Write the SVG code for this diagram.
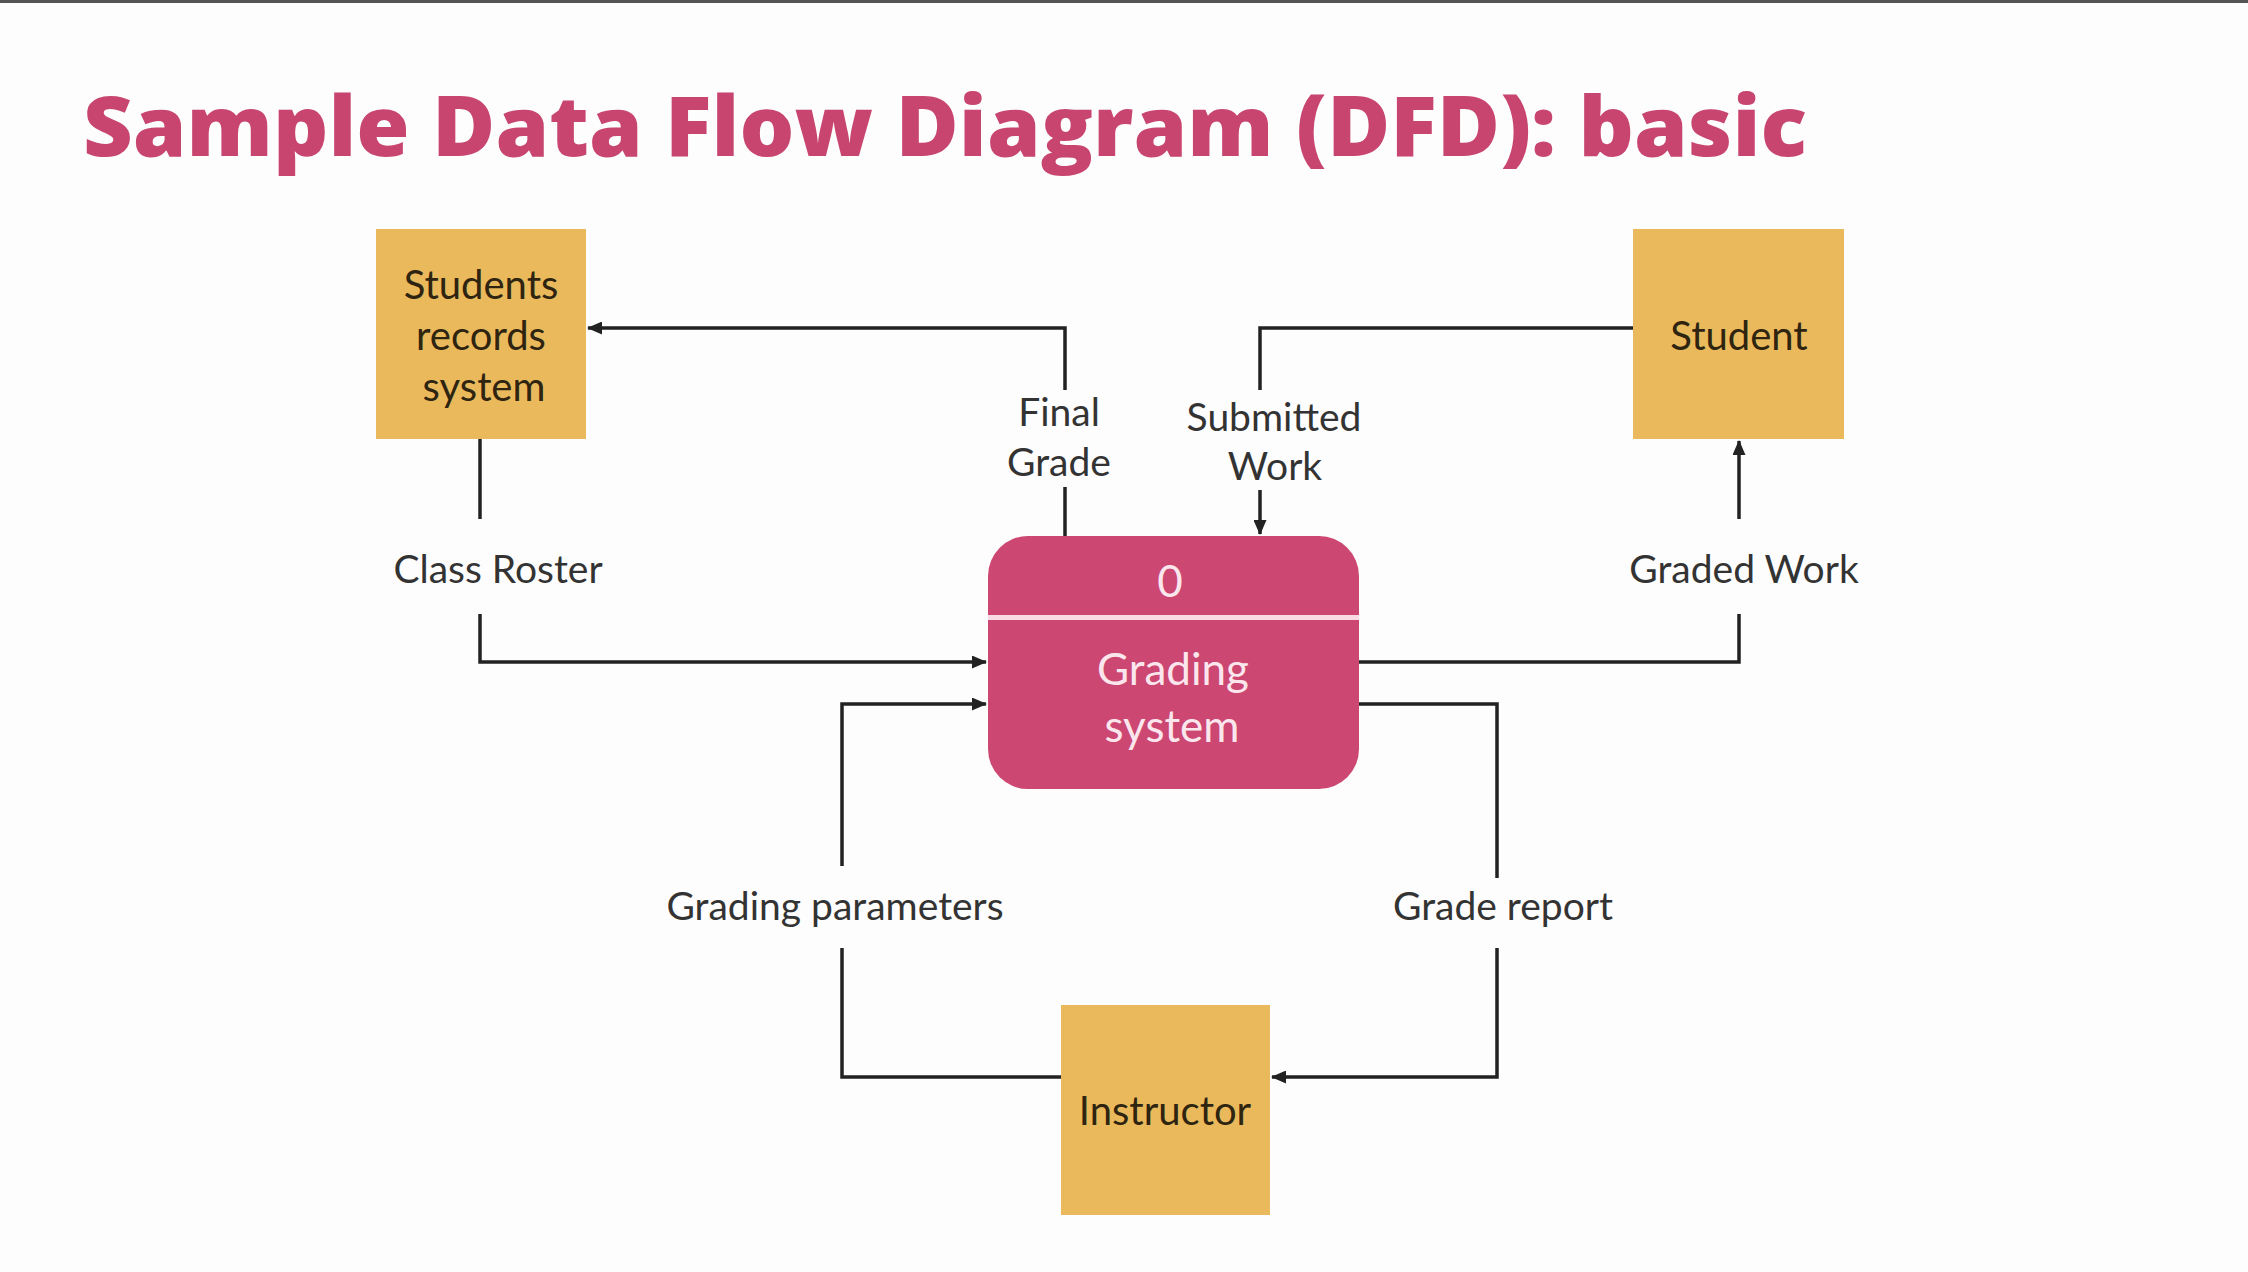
<svg xmlns="http://www.w3.org/2000/svg" width="2248" height="1272" viewBox="0 0 2248 1272">
<defs>
<marker id="arr" markerUnits="userSpaceOnUse" markerWidth="15" markerHeight="13" refX="14" refY="6.5" orient="auto">
<path d="M0,0 L15,6.5 L0,13 z" fill="#222"/>
</marker>
<style>
.ext{fill:#e9b95c;}
.proc{fill:#cc4771;}
.etxt{font-family:Lato,"Open Sans",sans-serif;font-size:40px;fill:#2e2410;text-anchor:middle;}
.ptxt{font-family:Lato,"Open Sans",sans-serif;font-size:44px;fill:#fbe6ee;text-anchor:middle;}
.lbl{font-family:Lato,"Open Sans",sans-serif;font-size:39px;fill:#333;text-anchor:middle;}
.ln{fill:none;stroke:#222;stroke-width:3.5;}
.title{font-family:"Open Sans","Liberation Sans",sans-serif;font-weight:800;font-size:84px;fill:#c8456f;}
</style>
</defs>
<rect x="0" y="0" width="2248" height="1272" fill="#fdfdfd"/>
<rect x="0" y="0" width="2248" height="3" fill="#555"/>
<text class="title" x="83" y="156" textLength="1724" lengthAdjust="spacingAndGlyphs">Sample Data Flow Diagram (DFD): basic</text>

<g id="connectors">
<g id="flow-final-grade">
<path class="ln" d="M1065,536 L1065,487"/>
<path class="ln" d="M1065,390 L1065,328 L588,328" marker-end="url(#arr)"/>
<text class="lbl" x="1059" y="426">Final</text>
<text class="lbl" x="1059" y="476">Grade</text>
</g>
<g id="flow-submitted-work">
<path class="ln" d="M1633,328 L1260,328 L1260,390"/>
<path class="ln" d="M1260,490 L1260,534" marker-end="url(#arr)"/>
<text class="lbl" x="1274" y="431">Submitted</text>
<text class="lbl" x="1275" y="480">Work</text>
</g>
<g id="flow-class-roster">
<path class="ln" d="M480,439 L480,519"/>
<path class="ln" d="M480,614 L480,662 L986,662" marker-end="url(#arr)"/>
<text class="lbl" x="498" y="583">Class Roster</text>
</g>
<g id="flow-graded-work">
<path class="ln" d="M1359,662 L1739,662 L1739,614"/>
<path class="ln" d="M1739,519 L1739,441" marker-end="url(#arr)"/>
<text class="lbl" x="1744" y="583">Graded Work</text>
</g>
<g id="flow-grading-parameters">
<path class="ln" d="M1061,1077 L842,1077 L842,948"/>
<path class="ln" d="M842,866 L842,704 L986,704" marker-end="url(#arr)"/>
<text class="lbl" x="835" y="920">Grading parameters</text>
</g>
<g id="flow-grade-report">
<path class="ln" d="M1359,704 L1497,704 L1497,878"/>
<path class="ln" d="M1497,948 L1497,1077 L1272,1077" marker-end="url(#arr)"/>
<text class="lbl" x="1503" y="920">Grade report</text>
</g>
</g>

<g id="students-records-system">
<rect class="ext" x="376" y="229" width="210" height="210"/>
<text class="etxt" x="481" y="299">Students</text>
<text class="etxt" x="481" y="350">records</text>
<text class="etxt" x="484" y="401">system</text>
</g>
<g id="student">
<rect class="ext" x="1633" y="229" width="211" height="210"/>
<text class="etxt" x="1739" y="350">Student</text>
</g>
<g id="instructor">
<rect class="ext" x="1061" y="1005" width="209" height="210"/>
<text class="etxt" x="1165" y="1125">Instructor</text>
</g>
<g id="grading-system">
<rect class="proc" x="988" y="536" width="371" height="253" rx="40" ry="40"/>
<rect x="988" y="615" width="371" height="5" fill="#f8dbe5"/>
<text class="ptxt" x="1170" y="597">0</text>
<text class="ptxt" x="1173" y="685">Grading</text>
<text class="ptxt" x="1172" y="742">system</text>
</g>
</svg>
